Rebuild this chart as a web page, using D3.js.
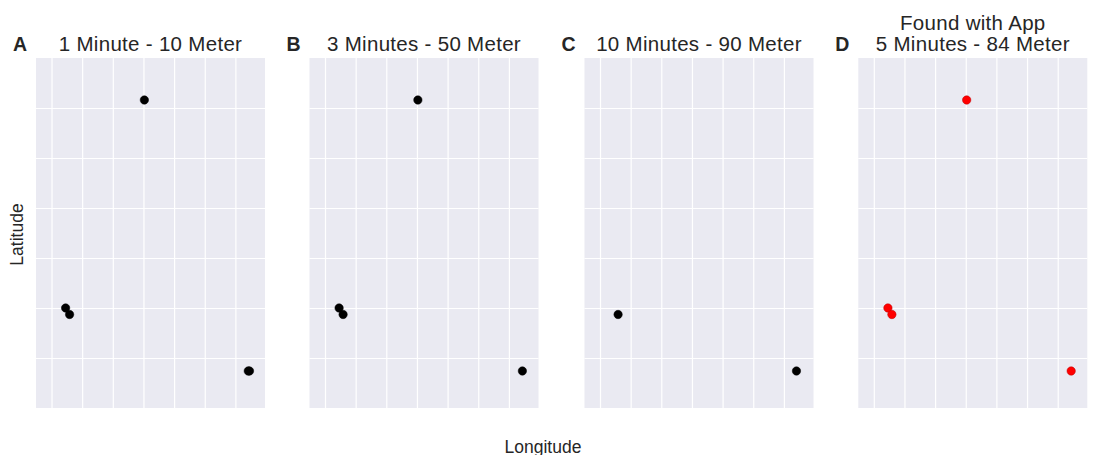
<!DOCTYPE html>
<html>
<head>
<meta charset="utf-8">
<script src="https://cdn.jsdelivr.net/npm/d3@7"></script>
<style>
  body { margin: 0; background: #fff; }
  text { font-family: "Liberation Sans", Arial, sans-serif; fill: #262626; }
</style>
</head>
<body>
<svg id="chart" width="1093" height="455"></svg>
<script>
// panels (letter, title lines, dot colour)
const panelLetters = ["A", "B", "C", "D"];
const panelTitles = [
  ["1 Minute - 10 Meter"],
  ["3 Minutes - 50 Meter"],
  ["10 Minutes - 90 Meter"],
  ["Found with App", "5 Minutes - 84 Meter"]
];
const panelColors = ["black", "black", "black", "red"];

// positions in grid units (longitude, latitude)
const lonA = [4.03, 1.46, 1.59, 7.42, 7.46];
const latA = [6.16, 2.00, 1.87, 0.74, 0.74];
const lonB = [4.03, 1.46, 1.59, 7.44];
const latB = [6.16, 2.00, 1.87, 0.74];
const lonC = [1.59, 7.41];
const latC = [1.87, 0.74];
const lonD = [4.03, 1.46, 1.59, 7.44];
const latD = [6.16, 2.00, 1.87, 0.74];
const panelLon = [lonA, lonB, lonC, lonD];
const panelLat = [latA, latB, latC, latD];

// grid ticks
const lonTicks = [1, 2, 3, 4, 5, 6, 7];
const latTicks = [1, 2, 3, 4, 5, 6];
const lonDomain = [0.494, 7.966];
const latDomain = [0, 7];

const svg = d3.select("#chart");
const panelW = 229, panelH = 350, panelTop = 58;
const lefts = [36, 309.5, 584.5, 858.3];

const x = d3.scaleLinear().domain(lonDomain).range([0, panelW]);
const y = d3.scaleLinear().domain(latDomain).range([panelH, 0]);

panelLetters.forEach(function(letter, i) {
  const g = svg.append("g").attr("transform", "translate(" + lefts[i] + "," + panelTop + ")");

  g.append("rect")
    .attr("width", panelW)
    .attr("height", panelH)
    .attr("fill", "#EAEAF2");

  // grid via axes
  const gx = g.append("g")
    .call(d3.axisBottom(x).tickValues(lonTicks).tickSize(panelH).tickFormat(""));
  const gy = g.append("g")
    .call(d3.axisLeft(y).tickValues(latTicks).tickSize(-panelW).tickFormat(""));
  [gx, gy].forEach(function(a) {
    a.select(".domain").remove();
    a.selectAll(".tick line").attr("stroke", "#fff").attr("stroke-width", 1.2);
  });

  const pts = panelLon[i].map(function(d, j) { return [d, panelLat[i][j]]; });
  g.selectAll("circle").data(pts).enter().append("circle")
    .attr("cx", function(d) { return x(d[0]); })
    .attr("cy", function(d) { return y(d[1]); })
    .attr("r", 4.2)
    .attr("fill", panelColors[i])
    .attr("stroke", panelColors[i] === "red" ? "#b00" : "black")
    .attr("stroke-width", 0.5);

  // title
  const lines = panelTitles[i];
  lines.forEach(function(t, k) {
    g.append("text")
      .attr("x", panelW / 2)
      .attr("y", -7 - (lines.length - 1 - k) * 21)
      .attr("text-anchor", "middle")
      .attr("font-size", 20.5)
      .attr("letter-spacing", 0.3)
      .text(t);
  });

  g.append("text")
    .attr("x", -23)
    .attr("y", -7)
    .attr("font-size", 19.5)
    .attr("font-weight", "bold")
    .text(letter);
});

svg.append("text")
  .attr("transform", "translate(23,234.5) rotate(-90)")
  .attr("text-anchor", "middle")
  .attr("font-size", 17.5)
  .text("Latitude");

svg.append("text")
  .attr("x", 543)
  .attr("y", 453)
  .attr("text-anchor", "middle")
  .attr("font-size", 17.5)
  .text("Longitude");
</script>
</body>
</html>
